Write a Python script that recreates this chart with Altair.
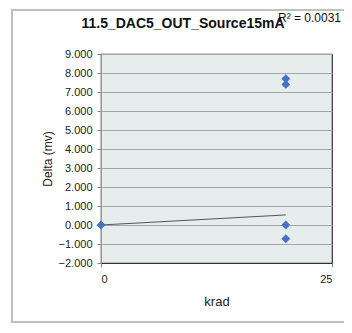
import altair as alt
import pandas as pd

# data
point_x = [0, 20, 20, 20, 20]
point_y = [0.0, 7.7, 7.4, 0.0, -0.72]
trend_x = [0, 20]
trend_y = [0.0, 0.53]
y_ticks = [-2, -1, 0, 1, 2, 3, 4, 5, 6, 7, 8, 9]
x_ticks = [0, 25]
title_text = "11.5_DAC5_OUT_Source15mA"
r2_text = "R\u00b2 = 0.0031"

pts = pd.DataFrame({"krad": point_x, "delta": point_y})
trend = pd.DataFrame({"krad": trend_x, "delta": trend_y})

FONT = "Liberation Sans"
W, H = 231, 209

xs = alt.Scale(domain=[0, 25], nice=False, zero=False)
ys = alt.Scale(domain=[-2, 9], nice=False, zero=False)

x_axis = alt.Axis(values=x_ticks, title="krad", grid=False, labelFontSize=11,
                  labelPadding=6, titleFontSize=13, titleFontWeight="normal",
                  titlePadding=11, tickSize=4, tickColor="#888888",
                  domainColor="#333333", labelColor="#222222", titleColor="#222222",
                  labelFont=FONT, titleFont=FONT, labelOverlap=False)
y_axis = alt.Axis(values=y_ticks, format=".3f", title="Delta (mv)", grid=True,
                  gridColor="#A6A6A6", gridWidth=1, labelFontSize=11,
                  labelPadding=5, titleFontSize=12, titleFontWeight="normal",
                  titlePadding=4, tickSize=4, tickColor="#888888",
                  domainColor="#999999", labelColor="#222222", titleColor="#222222",
                  labelFont=FONT, titleFont=FONT, labelOverlap=False)

X = alt.X("krad:Q", scale=xs, axis=x_axis)
Y = alt.Y("delta:Q", scale=ys, axis=y_axis)

frame = alt.Chart(pd.DataFrame({"a": [0]})).mark_rect(
    fill=None, stroke="#BFBFBF", strokeWidth=2, clip=False
).encode(x=alt.value(-89), x2=alt.value(260), y=alt.value(-44), y2=alt.value(268))

line = alt.Chart(trend).mark_line(color="#555555", strokeWidth=1).encode(x=X, y=Y)

points = alt.Chart(pts).mark_point(
    shape="diamond", filled=True, color="#4472C4", size=80, opacity=1
).encode(x=X, y=Y)

title = alt.Chart(pd.DataFrame({"t": [title_text]})).mark_text(
    font=FONT, fontSize=14, fontWeight="bold", color="#111111",
    align="center", baseline="alphabetic"
).encode(text="t:N", x=alt.value(82), y=alt.value(-26))

r2 = alt.Chart(pd.DataFrame({"t": [r2_text]})).mark_text(
    font=FONT, fontSize=12, color="#111111", align="left", baseline="alphabetic"
).encode(text="t:N", x=alt.value(177), y=alt.value(-32))

chart = alt.layer(frame, line, points, title, r2).properties(
    width=W, height=H,
    background="white",
    autosize=alt.AutoSizeParams(type="none"),
    padding={"left": 93, "top": 46, "right": 12, "bottom": 62},
).configure_view(
    fill="#E7ECEC", stroke="#333333", strokeWidth=1.2
)

chart.save("out.html", embed_options={"renderer": "svg", "actions": False})
